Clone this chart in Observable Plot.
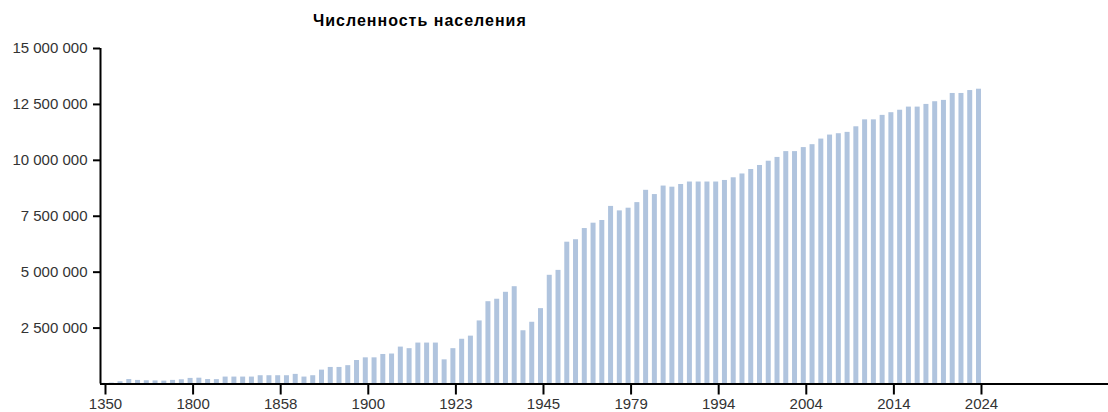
<!DOCTYPE html>
<html>
<head>
<meta charset="utf-8">
<script src="https://cdn.jsdelivr.net/npm/d3@7"></script>
<script src="https://cdn.jsdelivr.net/npm/@observablehq/plot@0.6"></script>
<style>
  html, body { margin: 0; padding: 0; background: #fff; }
  #wrap { position: relative; width: 1108px; height: 412px; }
  #title { position: absolute; left: 313px; top: 12px; font: bold 16px "Liberation Sans", Arial, sans-serif; letter-spacing: 1px; color: #000; line-height: 18px; white-space: nowrap; }
</style>
</head>
<body>
<div id="wrap"><div id="title">Численность населения</div></div>
<script>
const years = [1350,1400,1500,1638,1710,1725,1738,1750,1775,1785,
  1800,1811,1812,1825,1830,1840,1847,1850,1852,1856,
  1858,1862,1863,1864,1868,1871,1882,1885,1890,1897,
  1900,1902,1905,1907,1910,1912,1914,1915,1917,1920,
  1923,1926,1928,1931,1933,1937,1939,1941,1942,1943,
  1945,1950,1955,1959,1960,1965,1967,1970,1973,1975,
  1979,1980,1985,1986,1987,1989,1990,1991,1992,1993,
  1994,1995,1996,1997,1998,1999,2000,2001,2002,2003,
  2004,2005,2006,2007,2008,2009,2010,2011,2012,2013,
  2014,2015,2016,2017,2018,2019,2020,2021,2022,2023,
  2024];
const population = [30000,40000,100000,200000,160000,145000,138000,130000,161000,188700,
  250000,260000,200000,195000,310000,310000,310000,310000,370000,370000,
  370000,370000,430000,310000,370000,620000,740000,740000,820000,1050000,
  1170000,1170000,1320000,1340000,1650000,1580000,1830000,1830000,1830000,1080000,
  1580000,2000000,2140000,2820000,3680000,3790000,4100000,4350000,2380000,2760000,
  3370000,4860000,5080000,6340000,6450000,6950000,7190000,7310000,7940000,7740000,
  7860000,8110000,8660000,8470000,8850000,8800000,8920000,9030000,9030000,9030000,
  9030000,9100000,9220000,9390000,9590000,9770000,9960000,10130000,10390000,10390000,
  10570000,10700000,10950000,11130000,11190000,11250000,11500000,11810000,11810000,12010000,
  12130000,12240000,12380000,12380000,12500000,12620000,12680000,12990000,12990000,13120000,
  13180000];
const yTicks = [2500000,5000000,7500000,10000000,12500000,15000000];
const xTickEvery = 10;

const data = years.map((y, i) => ({i, year: y, value: population[i]}));
const xTicks = d3.range(0, years.length, xTickEvery);
const barW = 0.57;
const xDomain = [-barW, 114.5];
const fmt = v => d3.format(",")(v).replace(/,/g, " ");

const chart = Plot.plot({
  width: 1108,
  height: 412,
  marginLeft: 100,
  marginRight: 0,
  marginTop: 48,
  marginBottom: 28.5,
  style: {fontFamily: '"Liberation Sans", Arial, sans-serif', fontSize: "15px", background: "transparent", overflow: "visible"},
  x: {type: "linear", domain: xDomain},
  y: {domain: [0, 15000000]},
  marks: [
    Plot.rectY(data, {x1: d => d.i - barW, x2: d => d.i, y: "value", fill: "#b0c4de"}),
    Plot.ruleY([0], {stroke: "#000", strokeWidth: 2}),
    Plot.ruleX([xDomain[0]], {stroke: "#000", strokeWidth: 2}),
    Plot.axisY({ticks: yTicks, tickFormat: fmt, tickSize: 7, tickPadding: 6, stroke: "#000", strokeWidth: 2, fill: "#333", label: null}),
    Plot.axisX({ticks: xTicks, tickFormat: i => String(years[i]), tickSize: 11, tickPadding: 3, stroke: "#000", strokeWidth: 2, fill: "#333", label: null})
  ]
});
chart.style.position = "absolute";
chart.style.left = "0";
chart.style.top = "0";
document.getElementById("wrap").prepend(chart);
</script>
</body>
</html>
